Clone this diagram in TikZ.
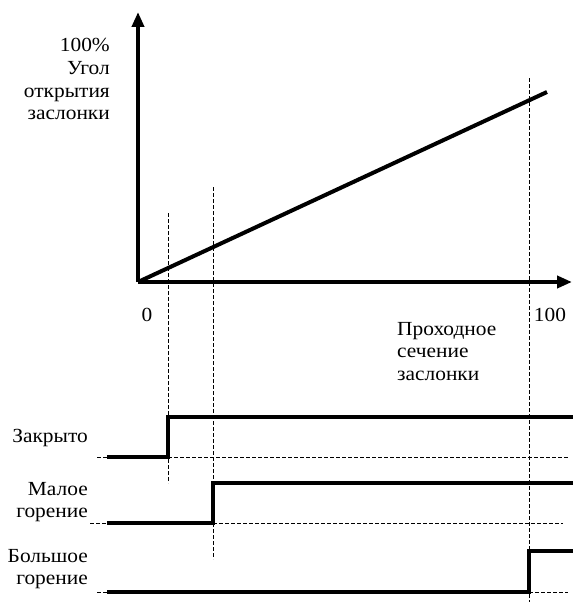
\documentclass[tikz,border=0pt]{standalone}
\usepackage{fontspec}
\setmainfont{Liberation Serif}[FakeStretch=1.07]
\usetikzlibrary{arrows.meta}
\begin{document}
\begin{tikzpicture}[x=1pt,y=-1pt,
  axis/.style={line width=4pt,-{Triangle[length=15pt,width=12pt]}},
  thickline/.style={line width=3.5pt},
  guide/.style={line width=0.9pt,dash pattern=on 4pt off 2pt},
  lbl/.style={font=\fontsize{20}{22.5}\selectfont,inner sep=0pt},
]
\useasboundingbox (0,0) rectangle (573,602);
% axes
\coordinate (O) at (138,282);
\coordinate (ytop) at (138,12);
\coordinate (xend) at (572,282);
\coordinate (dend) at (547,92);
\draw[axis] (O) -- (ytop);
\draw[axis] (O) -- (xend);
\draw[line width=4pt] (O) -- (dend);
% vertical guides
\coordinate (g1t) at (168,213); \coordinate (g1b) at (168,483);
\coordinate (g2t) at (213,187); \coordinate (g2b) at (213,559);
\coordinate (g3t) at (529,78);  \coordinate (g3b) at (529,602);
\draw[guide] (g1t) -- (g1b);
\draw[guide] (g2t) -- (g2b);
\draw[guide] (g3t) -- (g3b);
% axis labels
\node[lbl,anchor=base east] (y1) at (110,52) {100\%};
\node[lbl,anchor=base east] (y2) at (110,74.5) {Угол};
\node[lbl,anchor=base east] (y3) at (110,97) {открытия};
\node[lbl,anchor=base east] (y4) at (110,119.5) {заслонки};
\node[lbl,anchor=base] (zero) at (147,321) {0};
\node[lbl,anchor=base] (hund) at (550,321) {100};
\node[lbl,anchor=base west] (x1) at (397,335) {Проходное};
\node[lbl,anchor=base west] (x2) at (397,357.5) {сечение};
\node[lbl,anchor=base west] (x3) at (397,380) {заслонки};
% signal 1
\node[lbl,anchor=base east] (s1) at (88,442) {Закрыто};
\coordinate (a0) at (97,457); \coordinate (a1) at (107,457);
\coordinate (a2) at (168,457); \coordinate (a3) at (168,417);
\coordinate (a4) at (573,417); \coordinate (a5) at (568,457);
\draw[guide] (a0) -- (a1);
\draw[guide] (a2) -- (a5);
\draw[thickline] (a1) -- (a2) -- (a3) -- (a4);
% signal 2
\node[lbl,anchor=base east] (s2a) at (88,495) {Малое};
\node[lbl,anchor=base east] (s2b) at (88,517.5) {горение};
\coordinate (b0) at (90,523); \coordinate (b1) at (107,523);
\coordinate (b2) at (213,523); \coordinate (b3) at (213,483);
\coordinate (b4) at (573,483); \coordinate (b5) at (563,523);
\draw[guide] (b0) -- (b1);
\draw[guide] (b2) -- (b5);
\draw[thickline] (b1) -- (b2) -- (b3) -- (b4);
% signal 3
\node[lbl,anchor=base east] (s3a) at (88,562) {Большое};
\node[lbl,anchor=base east] (s3b) at (88,584.5) {горение};
\coordinate (c0) at (97,592); \coordinate (c1) at (107,592);
\coordinate (c2) at (529,592); \coordinate (c3) at (529,551);
\coordinate (c4) at (573,551); \coordinate (c5) at (568,592);
\draw[guide] (c0) -- (c1);
\draw[guide] (c2) -- (c5);
\draw[thickline] (c1) -- (c2) -- (c3) -- (c4);
\end{tikzpicture}
\end{document}
